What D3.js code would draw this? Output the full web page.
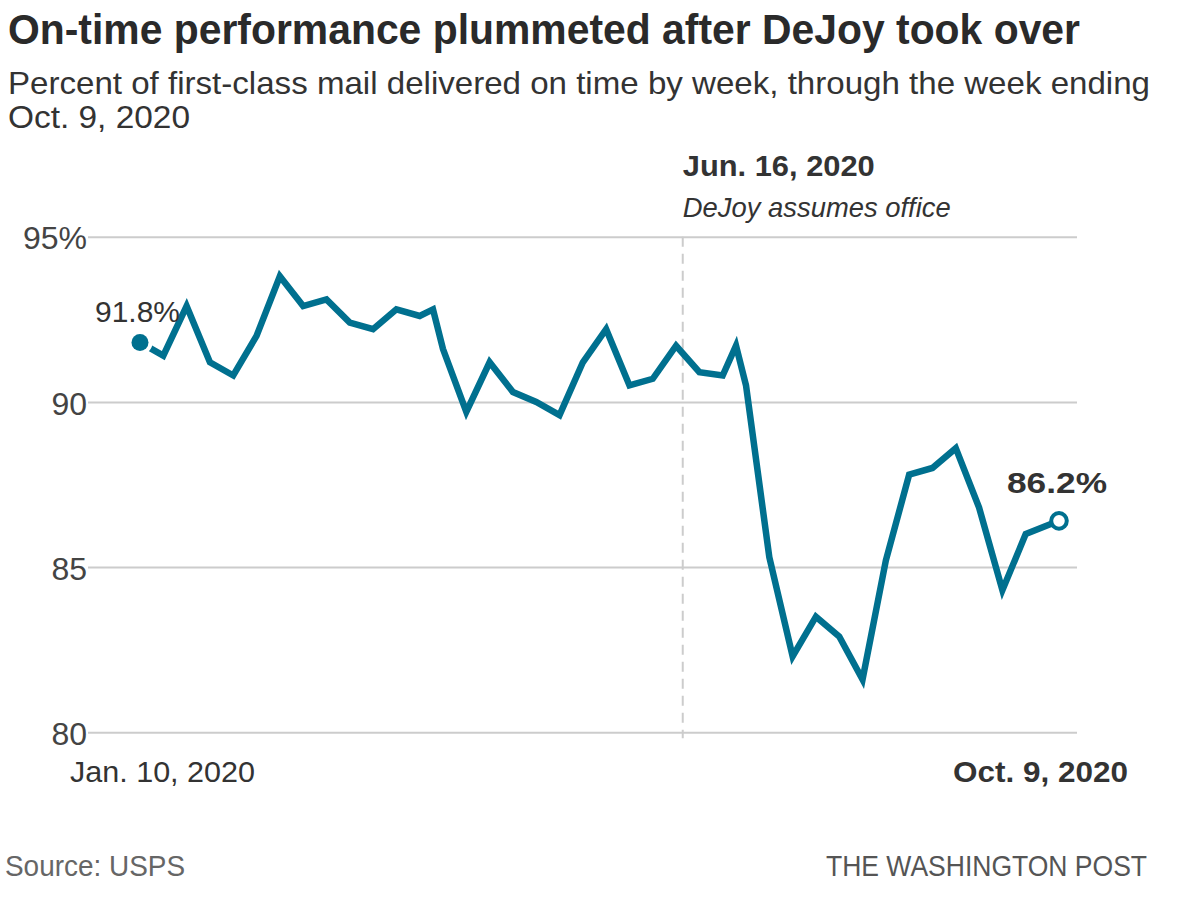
<!DOCTYPE html>
<html>
<head>
<meta charset="utf-8">
<script src="https://cdn.jsdelivr.net/npm/d3@7"></script>
<style>
  html, body { margin: 0; padding: 0; background: #fff; }
  svg { display: block; }
  text { font-family: "Liberation Sans", Arial, sans-serif; }
</style>
</head>
<body>
<svg id="chart" width="1200" height="900"></svg>
<script>
// ---- data ----
const dates = [
  "2020-01-10","2020-01-17","2020-01-24","2020-01-31","2020-02-07","2020-02-14",
  "2020-02-21","2020-02-28","2020-03-06","2020-03-13","2020-03-20","2020-03-27",
  "2020-04-03","2020-04-07","2020-04-10","2020-04-17","2020-04-24","2020-05-01",
  "2020-05-08","2020-05-15","2020-05-22","2020-05-29","2020-06-05","2020-06-12",
  "2020-06-19","2020-06-26","2020-07-03","2020-07-07","2020-07-10","2020-07-17",
  "2020-07-24","2020-07-31","2020-08-07","2020-08-14","2020-08-21","2020-08-28",
  "2020-09-04","2020-09-11","2020-09-18","2020-09-25","2020-10-02","2020-10-12"
];
const onTime = [
  91.8, 91.4, 92.9, 91.2, 90.8, 92.0,
  93.8, 92.9, 93.1, 92.4, 92.2, 92.8,
  92.6, 92.8, 91.6, 89.7, 91.2, 90.3,
  90.0, 89.6, 91.2, 92.2, 90.5, 90.7,
  91.7, 90.9, 90.8, 91.7, 90.5, 85.3,
  82.3, 83.5, 82.9, 81.6, 85.2, 87.8,
  88.0, 88.6, 86.8, 84.3, 86.0, 86.4
];
const yTicks = [80, 85, 90, 95];
const yTickLabels = ["80", "85", "90", "95%"];
const markerDate = "2020-06-21";
const markerLabel = "Jun. 16, 2020";
const markerNote = "DeJoy assumes office";
const startLabel = "91.8%";
const endLabel = "86.2%";
const xStartLabel = "Jan. 10, 2020";
const xEndLabel = "Oct. 9, 2020";
const title = "On-time performance plummeted after DeJoy took over";
const subtitle = ["Percent of first-class mail delivered on time by week, through the week ending", "Oct. 9, 2020"];
const source = "Source: USPS";
const credit = "THE WASHINGTON POST";

// ---- setup ----
const parse = d3.timeParse("%Y-%m-%d");
const data = dates.map((d, i) => ({ date: parse(d), value: onTime[i] }));
const svg = d3.select("#chart");
const BLUE = "#00708f";

const x = d3.scaleTime()
  .domain(d3.extent(data, d => d.date))
  .range([140, 1059]);
const y = d3.scaleLinear()
  .domain([80, 95])
  .range([732.3, 236.7]);

function fit(sel, w) {
  sel.attr("textLength", w).attr("lengthAdjust", "spacingAndGlyphs");
  return sel;
}

// ---- title / subtitle ----
fit(svg.append("text").attr("x", 8).attr("y", 44)
  .attr("font-size", 43).attr("font-weight", "bold").attr("fill", "#2a2a2a")
  .text(title), 1072);
fit(svg.append("text").attr("x", 8).attr("y", 94)
  .attr("font-size", 32).attr("fill", "#333").text(subtitle[0]), 1142);
fit(svg.append("text").attr("x", 8).attr("y", 128)
  .attr("font-size", 32).attr("fill", "#333").text(subtitle[1]), 182);

// ---- y grid / axis ----
const yAxis = d3.axisLeft(y)
  .tickValues(yTicks)
  .tickSize(989)
  .tickPadding(1)
  .tickFormat((d, i) => yTickLabels[i]);
const gy = svg.append("g").attr("transform", "translate(1077,0)").call(yAxis);
gy.select(".domain").remove();
gy.selectAll(".tick line").attr("stroke", "#cccccc").attr("stroke-width", 2);
gy.selectAll(".tick text")
  .attr("font-size", 32).attr("fill", "#444")
  .attr("font-family", "Liberation Sans, Arial, sans-serif")
  .attr("dy", "0.38em");

// ---- marker line ----
const mx = x(parse(markerDate));
svg.append("line")
  .attr("x1", mx).attr("x2", mx)
  .attr("y1", y(95)).attr("y2", y(80) + 6)
  .attr("stroke", "#cccccc").attr("stroke-width", 2)
  .attr("stroke-dasharray", "10,7");
fit(svg.append("text").attr("x", mx).attr("y", 176)
  .attr("font-size", 29).attr("font-weight", "bold").attr("fill", "#333")
  .text(markerLabel), 192);
fit(svg.append("text").attr("x", mx).attr("y", 217)
  .attr("font-size", 28).attr("font-style", "italic").attr("fill", "#333")
  .text(markerNote), 268);

// ---- line ----
const line = d3.line().x(d => x(d.date)).y(d => y(d.value));
svg.append("path")
  .datum(data)
  .attr("d", line)
  .attr("fill", "none")
  .attr("stroke", BLUE)
  .attr("stroke-width", 6.5)
  .attr("stroke-linejoin", "miter")
  .attr("stroke-miterlimit", 4);

// start dot with white halo
const first = data[0], last = data[data.length - 1];
svg.append("circle").attr("cx", x(first.date)).attr("cy", y(first.value))
  .attr("r", 12.5).attr("fill", "#fff");
svg.append("circle").attr("cx", x(first.date)).attr("cy", y(first.value))
  .attr("r", 8.5).attr("fill", BLUE);
// end open circle
svg.append("circle").attr("cx", x(last.date)).attr("cy", y(last.value))
  .attr("r", 7.8).attr("fill", "#fff").attr("stroke", BLUE).attr("stroke-width", 4);

// value labels
fit(svg.append("text").attr("x", 95).attr("y", 322)
  .attr("font-size", 30).attr("fill", "#333").text(startLabel), 85);
fit(svg.append("text").attr("x", 1007).attr("y", 493)
  .attr("font-size", 30).attr("font-weight", "bold").attr("fill", "#333").text(endLabel), 100);

// ---- x labels ----
fit(svg.append("text").attr("x", 70).attr("y", 782)
  .attr("font-size", 30).attr("fill", "#333").text(xStartLabel), 185);
fit(svg.append("text").attr("x", 953).attr("y", 782)
  .attr("font-size", 30).attr("font-weight", "bold").attr("fill", "#333").text(xEndLabel), 175);

// ---- footer ----
fit(svg.append("text").attr("x", 5).attr("y", 876)
  .attr("font-size", 30).attr("fill", "#666").text(source), 180);
fit(svg.append("text").attr("x", 826).attr("y", 876)
  .attr("font-size", 30).attr("fill", "#555").text(credit), 321);
</script>
</body>
</html>
